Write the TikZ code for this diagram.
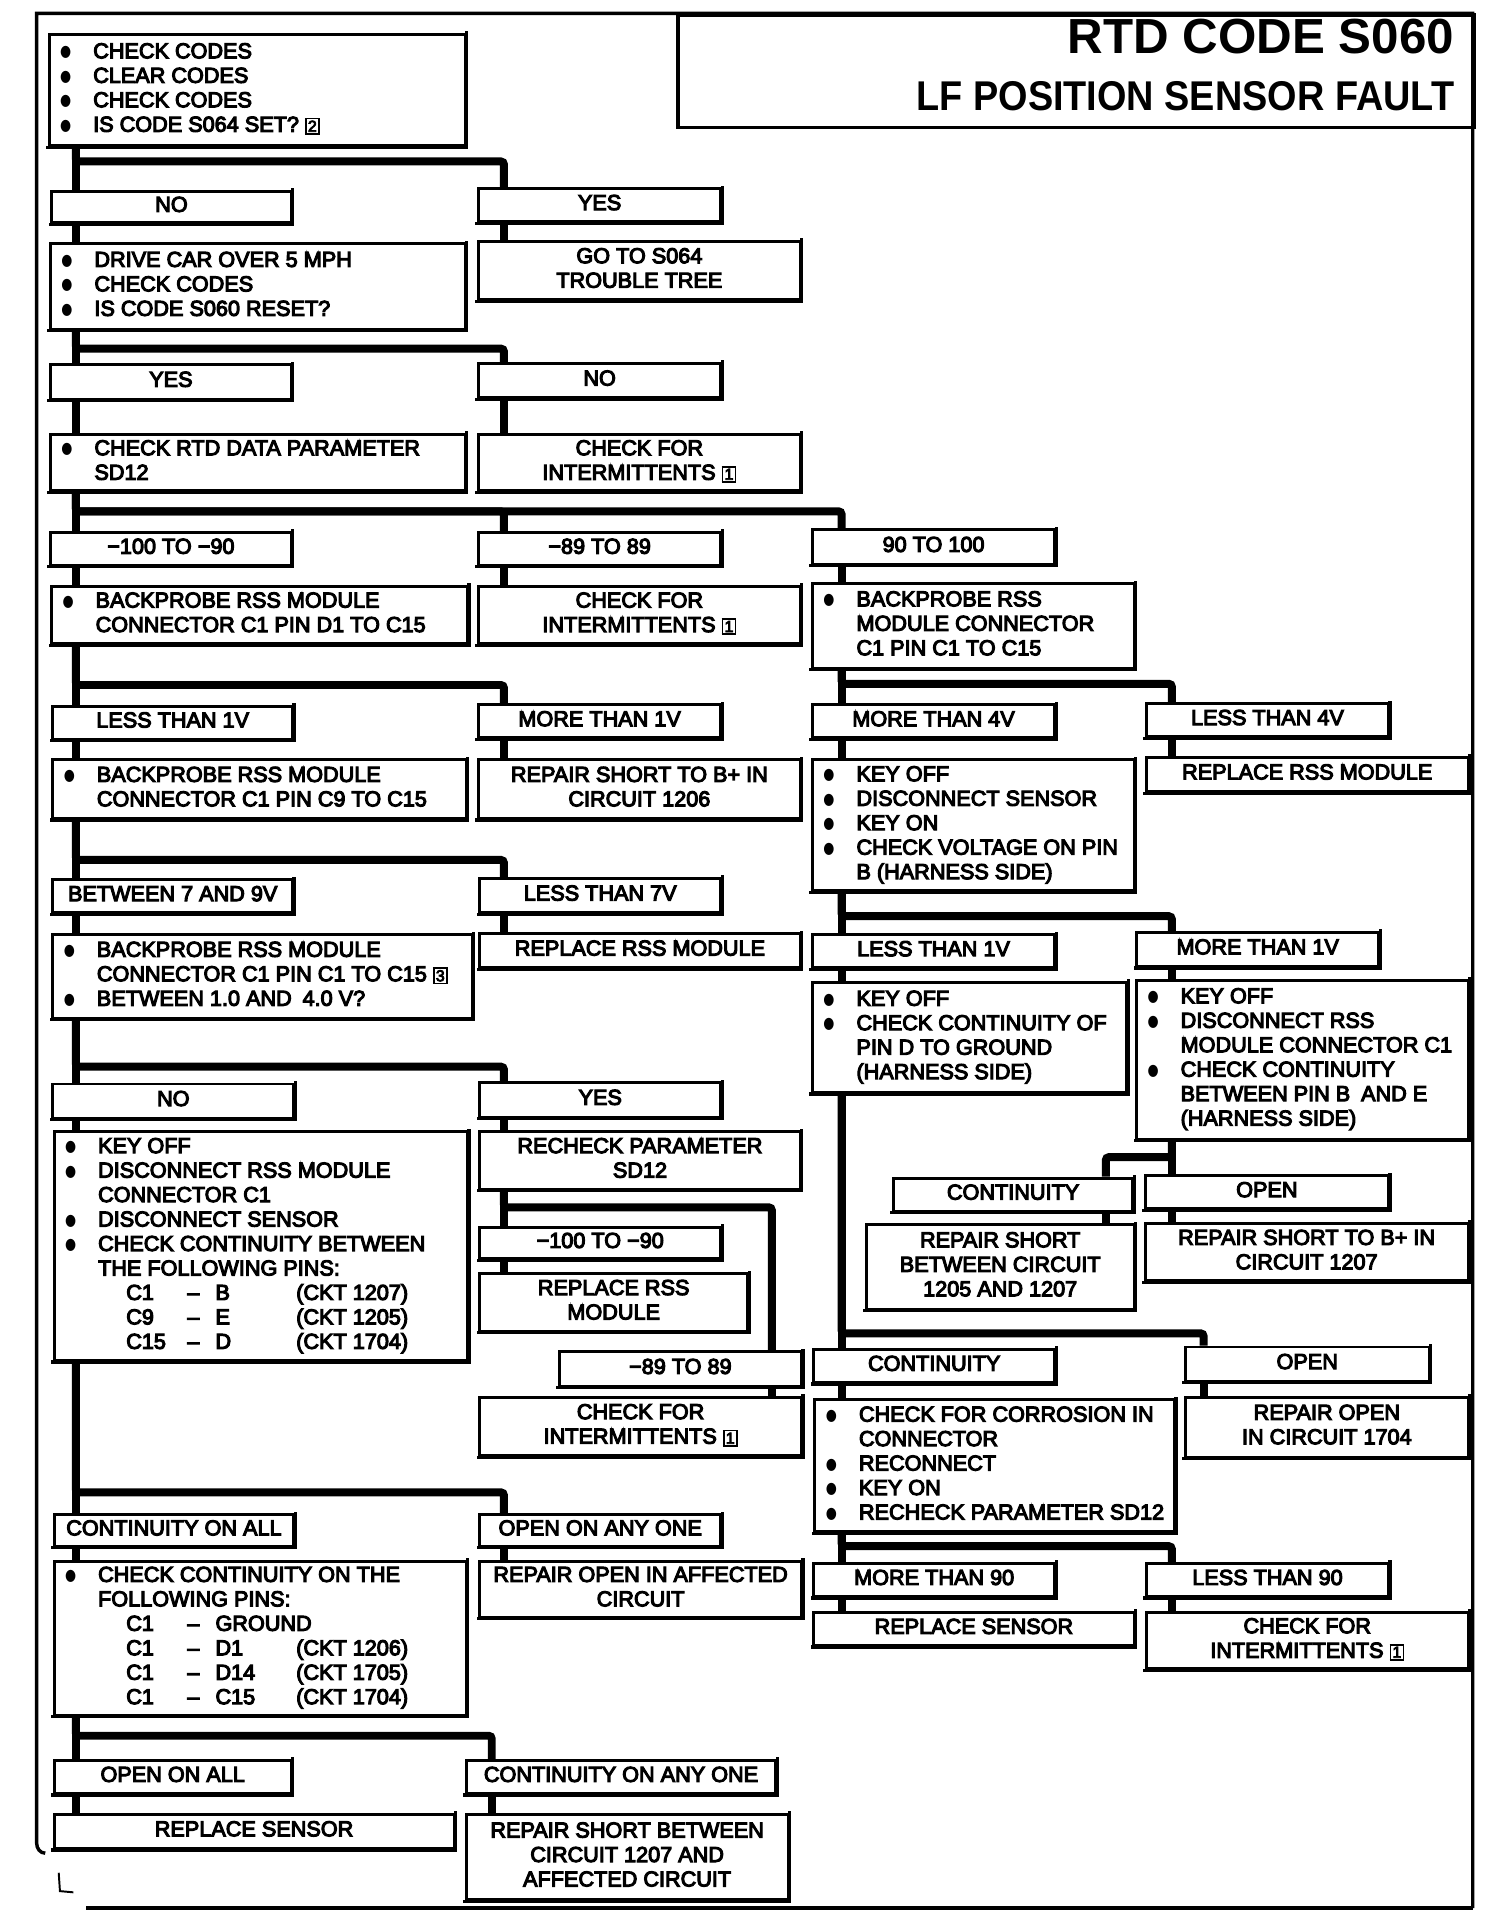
\documentclass[tikz,border=0pt]{standalone}
\usepackage{fontspec}
\setmainfont{Liberation Sans}[FakeBold=5]
\newfontfamily\titlefont{Liberation Sans}
\newfontfamily\symfont{DejaVu Sans}
\usepackage{graphicx}
\newcommand\bodyfont{\fontsize{17.7}{20}\selectfont}
\newcommand\bdot{\raisebox{1.2pt}{\scalebox{0.8}[1]{\symfont\fontsize{13}{13}\selectfont ●}}}
\newcommand\bu{\makebox[36pt][l]{\hspace*{9pt}\bdot}}
\newcommand\indt{\hspace*{36pt}}
\newcommand\nb[1]{{\setlength\fboxsep{1pt}\setlength\fboxrule{1.4pt}\fbox{\fontsize{13}{12}\selectfont #1}}}
\newcommand\pinrow[3]{\hspace*{59pt}\makebox[50pt][l]{#1}\makebox[23pt][l]{–}\makebox[66pt][l]{#2}#3}
\tikzset{
  tb/.style={draw, line width=2.4pt, inner sep=0pt, anchor=north west, font=\bodyfont},
  shade/.style={line width=2.6pt, line cap=rect},
  conn/.style={line width=6.5pt, rounded corners=2.5pt},
  frame/.style={line width=2.8pt}
}
\newcommand\tbx[7]{%
  \pgfmathsetmacro\bxw{#4-#2}\pgfmathsetmacro\bxh{#5-#3}%
  \ifx l#6\def\bxc{\makebox[\bxw pt][l]{\raisebox{2.3pt}{\begin{tabular}{@{}l@{}}#7\end{tabular}}}}%
  \else\def\bxc{\raisebox{2.3pt}{\begin{tabular}{@{}c@{}}#7\end{tabular}}}\fi
  \node[tb, minimum width=\bxw pt, minimum height=\bxh pt] (#1) at (#2,#3) {\bxc};}
\begin{document}
\begin{tikzpicture}[x=1pt,y=-1pt]
\useasboundingbox (0,0) rectangle (1216,1568);
% frame
\draw[frame] (37,1515) to[out=180,in=-90] (30,1507) -- (30,11) -- (1204,11) -- (1204,1560);
\draw[line width=3.4pt] (1204,1560) -- (70,1560);
\draw[line width=1.6pt] (48,1531) -- (49,1546) -- (60,1547);
% title
\node[draw, line width=2.8pt, anchor=north west, minimum width=651pt, minimum height=92pt, inner sep=0pt] (titlebox) at (553,11) {};
\node[anchor=base east, inner sep=0pt, font=\titlefont\bfseries\fontsize{40.3}{44}\selectfont] (t1) at (1189,44) {RTD CODE S060};
\node[anchor=base east, inner sep=0pt, font=\titlefont\bfseries\fontsize{34}{40}\selectfont] (t2) at (1189,90) {\scalebox{0.91}[1]{LF POSITION SENSOR FAULT}};
% boxes
\tbx{start}{39}{27}{379}{118}{l}{\bu CHECK CODES\\ \bu CLEAR CODES\\ \bu CHECK CODES\\ \bu IS CODE S064 SET? \nb{2}}
\tbx{no1}{41}{155}{237}{181}{c}{NO}
\tbx{yes1}{390}{153}{588}{180}{c}{YES}
\tbx{drive}{40}{198}{379}{268}{l}{\bu DRIVE CAR OVER 5 MPH\\ \bu CHECK CODES\\ \bu IS CODE S060 RESET?}
\tbx{goto}{390}{196}{653}{244}{c}{GO TO S064\\ TROUBLE TREE}
\tbx{yes2}{40}{297}{237}{325}{c}{YES}
\tbx{no2}{390}{296}{588}{324}{c}{NO}
\tbx{rtd}{40}{354}{379}{400}{l}{\bu CHECK RTD DATA PARAMETER\\ \indt SD12}
\tbx{int1}{390}{354}{653}{400}{c}{CHECK FOR\\ INTERMITTENTS \nb{1}}
\tbx{m100}{40}{434}{237}{461}{c}{−100 TO −90}
\tbx{m89}{390}{434}{588}{461}{c}{−89 TO 89}
\tbx{p90}{663}{432}{861}{460}{c}{90 TO 100}
\tbx{bp1}{41}{478}{381}{525}{l}{\bu BACKPROBE RSS MODULE\\ \indt CONNECTOR C1 PIN D1 TO C15}
\tbx{int2}{390}{478}{653}{525}{c}{CHECK FOR\\ INTERMITTENTS \nb{1}}
\tbx{bp2}{663}{476}{926}{545}{l}{\bu BACKPROBE RSS\\ \indt MODULE CONNECTOR\\ \indt C1 PIN C1 TO C15}
\tbx{lt1v}{42}{576}{238}{603}{c}{LESS THAN 1V}
\tbx{mt1v}{390}{575}{588}{602}{c}{MORE THAN 1V}
\tbx{mt4v}{663}{575}{861}{602}{c}{MORE THAN 4V}
\tbx{lt4v}{936}{574}{1134}{601}{c}{LESS THAN 4V}
\tbx{bp3}{42}{620}{380}{668}{l}{\bu BACKPROBE RSS MODULE\\ \indt CONNECTOR C1 PIN C9 TO C15}
\tbx{rs1206}{390}{620}{653}{668}{c}{REPAIR SHORT TO B+ IN\\ CIRCUIT 1206}
\tbx{ko1}{663}{620}{926}{727}{l}{\bu KEY OFF\\ \bu DISCONNECT SENSOR\\ \bu KEY ON\\ \bu CHECK VOLTAGE ON PIN\\ \indt B (HARNESS SIDE)}
\tbx{rrss1}{936}{618}{1199}{646}{c}{REPLACE RSS MODULE}
\tbx{b79}{42}{718}{238}{745}{c}{BETWEEN 7 AND 9V}
\tbx{lt7v}{391}{717}{588}{745}{c}{LESS THAN 7V}
\tbx{bp4}{42}{763}{385}{831}{l}{\bu BACKPROBE RSS MODULE\\ \indt CONNECTOR C1 PIN C1 TO C15 \nb{3}\\ \bu BETWEEN 1.0 AND\enspace 4.0 V?}
\tbx{rrss2}{391}{762}{653}{790}{c}{REPLACE RSS MODULE}
\tbx{rlt1v}{663}{763}{861}{790}{c}{LESS THAN 1V}
\tbx{rmt1v}{928}{761}{1126}{789}{c}{MORE THAN 1V}
\tbx{ko2}{663}{802}{920}{892}{l}{\bu KEY OFF\\ \bu CHECK CONTINUITY OF\\ \indt PIN D TO GROUND\\ \indt (HARNESS SIDE)}
\tbx{ko3}{928}{800}{1199}{930}{l}{\bu KEY OFF\\ \bu DISCONNECT RSS\\ \indt MODULE CONNECTOR C1\\ \bu CHECK CONTINUITY\\ \indt BETWEEN PIN B\enspace AND E\\ \indt (HARNESS SIDE)}
\tbx{no4}{42}{885}{239}{913}{c}{NO}
\tbx{yes4}{391}{884}{588}{912}{c}{YES}
\tbx{ko4}{43}{924}{381}{1111}{l}{\bu KEY OFF\\ \bu DISCONNECT RSS MODULE\\ \indt CONNECTOR C1\\ \bu DISCONNECT SENSOR\\ \bu CHECK CONTINUITY BETWEEN\\ \indt THE FOLLOWING PINS:\\ \pinrow{C1}{B}{(CKT 1207)}\\ \pinrow{C9}{E}{(CKT 1205)}\\ \pinrow{C15}{D}{(CKT 1704)}}
\tbx{recheck}{391}{924}{653}{971}{c}{RECHECK PARAMETER\\ SD12}
\tbx{cont1}{729}{962}{925}{989}{c}{CONTINUITY}
\tbx{open1}{935}{960}{1134}{987}{c}{OPEN}
\tbx{rsb}{707}{1000}{926}{1069}{c}{REPAIR SHORT\\ BETWEEN CIRCUIT\\ 1205 AND 1207}
\tbx{rs1207}{935}{999}{1199}{1046}{c}{REPAIR SHORT TO B+ IN\\ CIRCUIT 1207}
\tbx{m100b}{391}{1002}{588}{1028}{c}{−100 TO −90}
\tbx{rrss3}{391}{1040}{610}{1087}{c}{REPLACE RSS\\ MODULE}
\tbx{m89b}{456}{1104}{654}{1132}{c}{−89 TO 89}
\tbx{int3}{391}{1141}{654}{1189}{c}{CHECK FOR\\ INTERMITTENTS \nb{1}}
\tbx{cont2}{664}{1102}{861}{1129}{c}{CONTINUITY}
\tbx{open2}{968}{1100}{1167}{1128}{c}{OPEN}
\tbx{corr}{665}{1143}{959}{1251}{l}{\bu CHECK FOR CORROSION IN\\ \indt CONNECTOR\\ \bu RECONNECT\\ \bu KEY ON\\ \bu RECHECK PARAMETER SD12}
\tbx{ro1704}{968}{1141}{1199}{1190}{c}{REPAIR OPEN\\ IN CIRCUIT 1704}
\tbx{coa}{43}{1237}{239}{1263}{c}{CONTINUITY ON ALL}
\tbx{oaao}{391}{1237}{588}{1263}{c}{OPEN ON ANY ONE}
\tbx{ccl}{43}{1275}{380}{1401}{l}{\bu CHECK CONTINUITY ON THE\\ \indt FOLLOWING PINS:\\ \pinrow{C1}{GROUND}{}\\ \pinrow{C1}{D1}{(CKT 1206)}\\ \pinrow{C1}{D14}{(CKT 1705)}\\ \pinrow{C1}{C15}{(CKT 1704)}}
\tbx{roa}{391}{1275}{654}{1321}{c}{REPAIR OPEN IN AFFECTED\\ CIRCUIT}
\tbx{mt90}{664}{1277}{861}{1304}{c}{MORE THAN 90}
\tbx{lt90}{936}{1277}{1134}{1304}{c}{LESS THAN 90}
\tbx{rsens1}{664}{1317}{926}{1344}{c}{REPLACE SENSOR}
\tbx{int4}{936}{1317}{1199}{1363}{c}{CHECK FOR\\ INTERMITTENTS \nb{1}}
\tbx{oal}{43}{1438}{237}{1465}{c}{OPEN ON ALL}
\tbx{caao}{380}{1438}{633}{1465}{c}{CONTINUITY ON ANY ONE}
\tbx{rsens2}{43}{1482}{370}{1510}{c}{REPLACE SENSOR}
\tbx{rsb2}{380}{1482}{643}{1552}{c}{REPAIR SHORT BETWEEN\\ CIRCUIT 1207 AND\\ AFFECTED CIRCUIT}
% heavier right and bottom edges
\foreach \n in {start,no1,yes1,drive,goto,yes2,no2,rtd,int1,m100,m89,p90,bp1,int2,bp2,lt1v,mt1v,mt4v,lt4v,bp3,rs1206,ko1,rrss1,b79,lt7v,bp4,rrss2,rlt1v,rmt1v,ko2,ko3,no4,yes4,ko4,recheck,cont1,open1,rsb,rs1207,m100b,rrss3,m89b,int3,cont2,open2,corr,ro1704,coa,oaao,ccl,roa,mt90,lt90,rsens1,int4,oal,caao,rsens2,rsb2}
  \draw[shade] (\n.north east) -- (\n.south east) -- (\n.south west);
% trunk x positions
\coordinate (xA) at (62,0);
\coordinate (xB) at (412,0);
\coordinate (xC) at (688,0);
\coordinate (xD) at (958,0);
\coordinate (xE) at (904,0);
\coordinate (xF) at (631,0);
\coordinate (xG) at (984,0);
\coordinate (xH) at (402,0);
% connectors
\draw[conn] (start.south -| xA) -- (no1.north -| xA);
\draw[conn] (start.south -| xA) -- (62,132) -| (yes1.north -| xB);
\draw[conn] (no1.south -| xA) -- (drive.north -| xA);
\draw[conn] (yes1.south -| xB) -- (goto.north -| xB);
\draw[conn] (drive.south -| xA) -- (yes2.north -| xA);
\draw[conn] (drive.south -| xA) -- (62,285) -| (no2.north -| xB);
\draw[conn] (yes2.south -| xA) -- (rtd.north -| xA);
\draw[conn] (no2.south -| xB) -- (int1.north -| xB);
\draw[conn] (rtd.south -| xA) -- (m100.north -| xA);
\draw[conn] (rtd.south -| xA) -- (62,418) -| (m89.north -| xB);
\draw[conn] (rtd.south -| xA) -- (62,418) -| (p90.north -| xC);
\draw[conn] (m100.south -| xA) -- (bp1.north -| xA);
\draw[conn] (m89.south -| xB) -- (int2.north -| xB);
\draw[conn] (p90.south -| xC) -- (bp2.north -| xC);
\draw[conn] (bp1.south -| xA) -- (lt1v.north -| xA);
\draw[conn] (bp1.south -| xA) -- (62,560) -| (mt1v.north -| xB);
\draw[conn] (bp2.south -| xC) -- (mt4v.north -| xC);
\draw[conn] (bp2.south -| xC) -- (688,559) -| (lt4v.north -| xD);
\draw[conn] (lt1v.south -| xA) -- (bp3.north -| xA);
\draw[conn] (mt1v.south -| xB) -- (rs1206.north -| xB);
\draw[conn] (mt4v.south -| xC) -- (ko1.north -| xC);
\draw[conn] (lt4v.south -| xD) -- (rrss1.north -| xD);
\draw[conn] (bp3.south -| xA) -- (b79.north -| xA);
\draw[conn] (bp3.south -| xA) -- (62,703) -| (lt7v.north -| xB);
\draw[conn] (ko1.south -| xC) -- (rlt1v.north -| xC);
\draw[conn] (ko1.south -| xC) -- (688,749) -| (rmt1v.north -| xD);
\draw[conn] (b79.south -| xA) -- (bp4.north -| xA);
\draw[conn] (lt7v.south -| xB) -- (rrss2.north -| xB);
\draw[conn] (rlt1v.south -| xC) -- (ko2.north -| xC);
\draw[conn] (rmt1v.south -| xD) -- (ko3.north -| xD);
\draw[conn] (bp4.south -| xA) -- (no4.north -| xA);
\draw[conn] (bp4.south -| xA) -- (62,872) -| (yes4.north -| xB);
\draw[conn] (ko3.south -| xD) -- (open1.north -| xD);
\draw[conn] (ko3.south -| xD) -- (958,946) -| (cont1.north -| xE);
\draw[conn] (cont1.south -| xE) -- (rsb.north -| xE);
\draw[conn] (open1.south -| xD) -- (rs1207.north -| xD);
\draw[conn] (no4.south -| xA) -- (ko4.north -| xA);
\draw[conn] (yes4.south -| xB) -- (recheck.north -| xB);
\draw[conn] (ko2.south -| xC) -- (cont2.north -| xC);
\draw[conn] (ko2.south -| xC) -- (688,1090) -| (open2.north -| xG);
\draw[conn] (recheck.south -| xB) -- (m100b.north -| xB);
\draw[conn] (recheck.south -| xB) -- (412,987) -| (m89b.north -| xF);
\draw[conn] (m100b.south -| xB) -- (rrss3.north -| xB);
\draw[conn] (m89b.south -| xF) -- (int3.north -| xF);
\draw[conn] (cont2.south -| xC) -- (corr.north -| xC);
\draw[conn] (open2.south -| xG) -- (ro1704.north -| xG);
\draw[conn] (ko4.south -| xA) -- (coa.north -| xA);
\draw[conn] (ko4.south -| xA) -- (62,1220) -| (oaao.north -| xB);
\draw[conn] (corr.south -| xC) -- (mt90.north -| xC);
\draw[conn] (corr.south -| xC) -- (688,1264) -| (lt90.north -| xD);
\draw[conn] (coa.south -| xA) -- (ccl.north -| xA);
\draw[conn] (oaao.south -| xB) -- (roa.north -| xB);
\draw[conn] (mt90.south -| xC) -- (rsens1.north -| xC);
\draw[conn] (lt90.south -| xD) -- (int4.north -| xD);
\draw[conn] (ccl.south -| xA) -- (oal.north -| xA);
\draw[conn] (ccl.south -| xA) -- (62,1419) -| (caao.north -| xH);
\draw[conn] (oal.south -| xA) -- (rsens2.north -| xA);
\draw[conn] (caao.south -| xH) -- (rsb2.north -| xH);
\end{tikzpicture}
\end{document}
